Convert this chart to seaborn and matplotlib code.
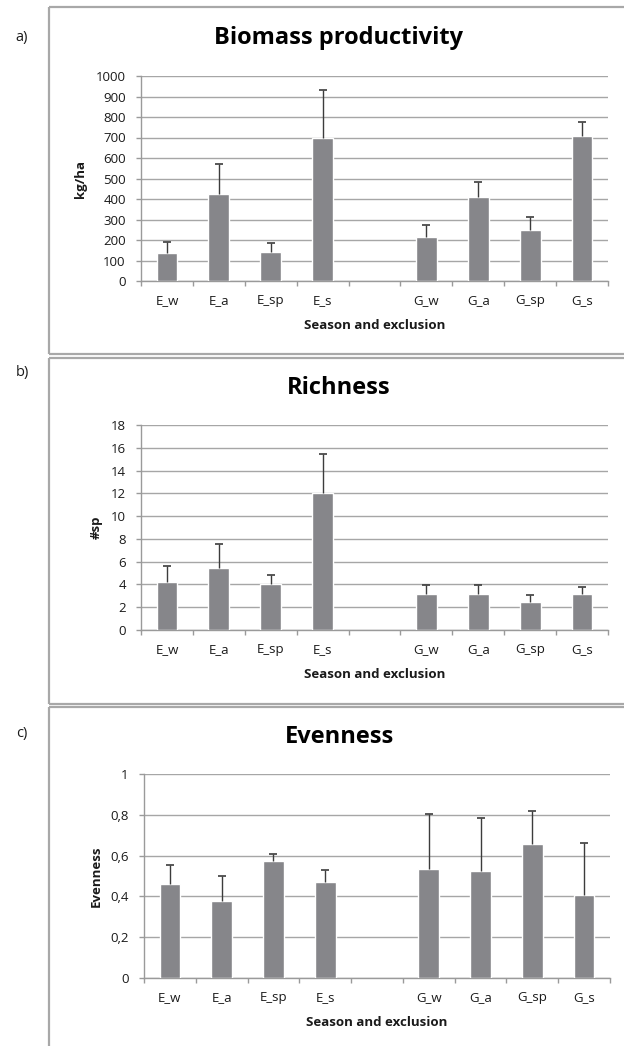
import matplotlib
matplotlib.use("Agg")
import matplotlib.pyplot as plt
import seaborn as sns
import pandas as pd
import numpy as np
from matplotlib.lines import Line2D
from matplotlib.ticker import FixedLocator, FuncFormatter, MultipleLocator

# ---------------- data ----------------
categories = ["E_w", "E_a", "E_sp", "E_s", "G_w", "G_a", "G_sp", "G_s"]
order = ["E_w", "E_a", "E_sp", "E_s", " ", "G_w", "G_a", "G_sp", "G_s"]

biomass_mean = [135, 422, 141, 698, 217, 412, 247, 705]
biomass_err = [53, 149, 46, 234, 56, 69, 63, 73]

richness_mean = [4.22, 5.48, 4.02, 12.02, 3.14, 3.14, 2.49, 3.14]
richness_err = [1.44, 2.06, 0.79, 3.43, 0.85, 0.85, 0.56, 0.61]

evenness_mean = [0.461, 0.377, 0.572, 0.469, 0.533, 0.523, 0.655, 0.405]
evenness_err = [0.095, 0.125, 0.034, 0.062, 0.271, 0.263, 0.162, 0.258]

titles = ["Biomass productivity", "Richness", "Evenness"]
ylabels = ["kg/ha", "#sp", "Evenness"]
panel_tags = ["a)", "b)", "c)"]
xlabel = "Season and exclusion"

# ---------------- style ----------------
sns.set_theme(style="white")
plt.rcParams["font.family"] = ["Open Sans", "DejaVu Sans"]

W, H = 624, 1046
fig = plt.figure(figsize=(W / 100, H / 100), dpi=100)
fig.patch.set_facecolor("white")

BAR = "#86868a"
GRID = "#a6a6a6"
AXC = "#9a9a9a"
ERR = "#3c3c3c"
FRAME = "#a8a8a8"
TXT = "#1a1a1a"

def fx(px):
    return px / W

def fy(py):
    return 1 - py / H

# frames (chart areas): left edge, top, bottom (right edge runs off the image)
frames = [(49, 7, 354), (49, 358, 704), (49, 707, None)]
for (x0, y0, y1) in frames:
    segs = [([fx(x0), 1.0], [fy(y0), fy(y0)])]
    if y1 is not None:
        segs.append(([fx(x0), 1.0], [fy(y1), fy(y1)]))
        segs.append(([fx(x0), fx(x0)], [fy(y0), fy(y1)]))
    else:
        segs.append(([fx(x0), fx(x0)], [fy(y0), 0.0]))
    for xs, ys in segs:
        fig.lines.append(Line2D(xs, ys, transform=fig.transFigure, color=FRAME,
                                linewidth=1.6, solid_capstyle="butt", zorder=0))

# axes boxes in pixel coords: left, right, top, bottom
boxes = [(141, 608, 76, 281), (141, 608, 425, 630), (144, 610, 774, 978)]
means = [biomass_mean, richness_mean, evenness_mean]
errs = [biomass_err, richness_err, evenness_err]
ylims = [(0, 1000, 100), (0, 18, 2), (0, 1, 0.2)]
title_pos = [(339, 38), (339, 388), (340, 737)]
tag_pos = [(22, 38), (22, 373), (22, 733)]
ylab_x = [80, 96, 96]

def fmt_c(v, pos):
    if abs(v) < 1e-9:
        return "0"
    if abs(v - 1) < 1e-9:
        return "1"
    return ("%.1f" % v).replace(".", ",")

for i in range(3):
    l, r, t, b = boxes[i]
    ax = fig.add_axes([fx(l), fy(b), fx(r) - fx(l), fy(t) - fy(b)])
    df = pd.DataFrame({"cat": categories, "val": means[i]})
    sns.barplot(data=df, x="cat", y="val", order=order, color=BAR, width=0.4,
                saturation=1, errorbar=None, ax=ax, zorder=3)
    pos = np.array([order.index(c) for c in categories])
    m = np.array(means[i])
    e = np.array(errs[i])
    ax.vlines(pos, m, m + e, color=ERR, linewidth=1.0, zorder=4)
    ax.plot(pos, m + e, linestyle="none", marker="_", markersize=6,
            markeredgewidth=1.2, color=ERR, zorder=4)
    lo, hi, step = ylims[i]
    ax.set_ylim(lo, hi)
    ax.set_xlim(-0.5, len(order) - 0.5)
    ax.yaxis.set_major_locator(MultipleLocator(step))
    if i == 2:
        ax.yaxis.set_major_formatter(FuncFormatter(fmt_c))
    ax.grid(axis="y", color=GRID, linewidth=1.0, zorder=0)
    ax.set_axisbelow(True)
    for s in ["top", "right"]:
        ax.spines[s].set_visible(False)
    for s in ["left", "bottom"]:
        ax.spines[s].set_color(AXC)
        ax.spines[s].set_linewidth(1.0)
    ax.xaxis.set_minor_locator(FixedLocator(np.arange(-0.5, len(order), 1.0)))
    ax.tick_params(axis="x", which="major", length=0, pad=9.5, labelsize=9.5, labelcolor=TXT)
    ax.tick_params(axis="x", which="minor", length=3.5, width=1.0, color=AXC, direction="out", bottom=True)
    ax.tick_params(axis="y", which="major", length=3.5, width=1.0, color=AXC, direction="out",
                   left=True, pad=7.5, labelsize=9.5, labelcolor=TXT)
    ax.set_xlabel(xlabel, fontsize=9.5, fontweight="bold", color=TXT)
    ax.xaxis.label.set_va("center")
    ax.xaxis.set_label_coords(0.5, -(44.0 / (b - t)))
    ax.set_ylabel(ylabels[i], fontsize=9.5, fontweight="bold", color=TXT)
    ax.yaxis.label.set_va("center")
    ax.yaxis.set_label_coords((ylab_x[i] - l) / (r - l), 0.5)
    ax.set_facecolor("none")

    tx, ty = title_pos[i]
    fig.text(fx(tx), fy(ty), titles[i], ha="center", va="center", fontsize=17,
             fontweight="bold", color="black")
    gx, gy = tag_pos[i]
    fig.text(fx(gx), fy(gy), panel_tags[i], ha="center", va="center", fontsize=10.5, color=TXT)

fig.savefig("out.png", dpi=100, facecolor="white")
